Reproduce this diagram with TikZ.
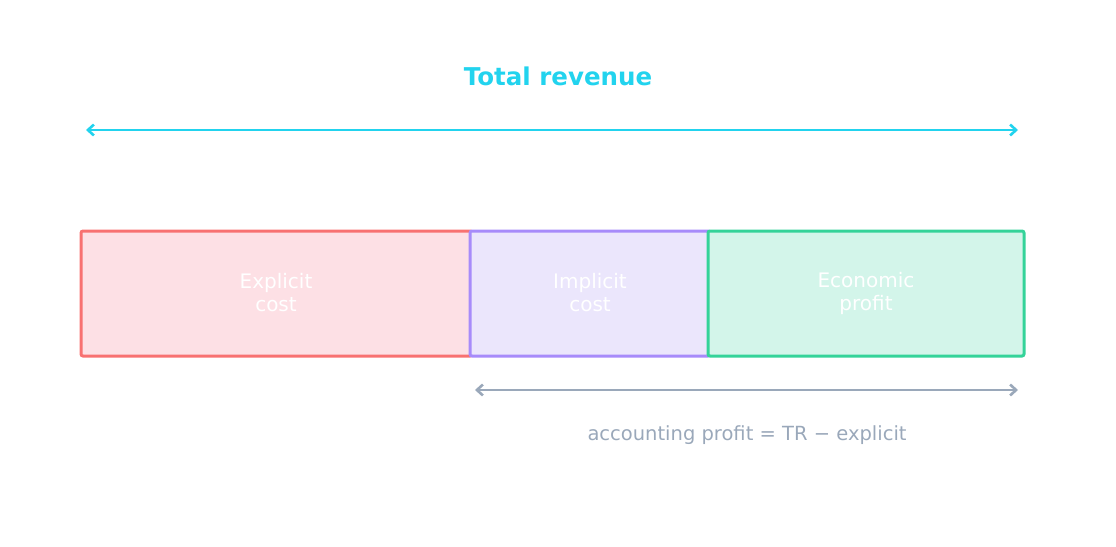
\documentclass[tikz,border=0pt]{standalone}
\usepackage{fontspec}
\setmainfont{DejaVu Sans}
\usetikzlibrary{arrows.meta}
\definecolor{cyanT}{HTML}{22D3EE}
\definecolor{redS}{HTML}{F87171}\definecolor{redF}{HTML}{FDE0E5}
\definecolor{purS}{HTML}{A78BFA}\definecolor{purF}{HTML}{EBE6FC}
\definecolor{grnS}{HTML}{34D399}\definecolor{grnF}{HTML}{D3F5EA}
\definecolor{grayT}{HTML}{9AA8BA}
\begin{document}
\begin{tikzpicture}[x=1pt,y=-1pt,
 box/.style={draw=#1S,fill=#1F,line width=3pt,rounded corners=2pt},
 lbl/.style={text=white,font=\fontsize{20}{23}\selectfont,align=center},
 arr/.style={draw=#1,line width=2.6pt,{Straight Barb[length=6pt,width=11pt]}-{Straight Barb[length=6pt,width=11pt]}}]
\useasboundingbox (0,0) rectangle (1116,546);
\node[text=cyanT,font=\bfseries\fontsize{24.5}{28}\selectfont] (title) at (558,76) {Total revenue};
\coordinate (tl) at (86,130); \coordinate (tr) at (1018,130);
\draw[arr=cyanT] (tl) -- (tr);
\draw[box=red] (81,231) rectangle (472,356);
\draw[box=pur] (470,231) rectangle (710,356);
\draw[box=grn] (708,231) rectangle (1024,356);
\node[lbl] (e) at (276,293) {Explicit\\cost};
\node[lbl] (i) at (590,293) {Implicit\\cost};
\node[lbl] (p) at (866,293) {Economic\\profit};
\coordinate (bl) at (475,390); \coordinate (br) at (1018,390);
\draw[arr=grayT] (bl) -- (br);
\node[text=grayT,font=\fontsize{19.5}{23}\selectfont] (acc) at (747,435) {accounting profit = TR − explicit};
\end{tikzpicture}
\end{document}
